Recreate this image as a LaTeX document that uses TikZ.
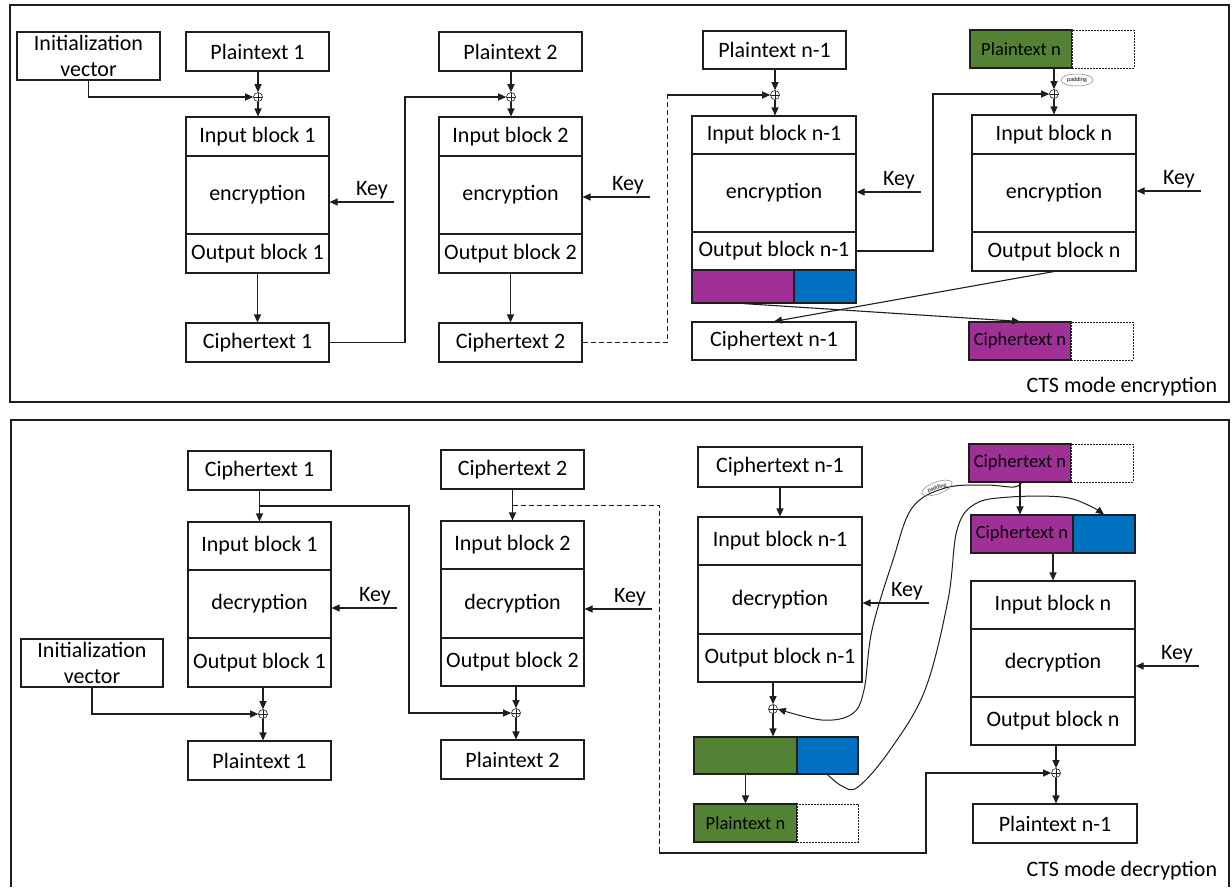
\documentclass[tikz,border=0pt]{standalone}
\usepackage{fontspec}
\setmainfont{Carlito}
\usetikzlibrary{arrows.meta,calc,shapes.geometric}
\definecolor{cpurple}{RGB}{160,48,150}
\definecolor{cgreen}{RGB}{84,130,53}
\definecolor{cblue}{RGB}{0,112,192}
\definecolor{lc}{RGB}{30,30,30}
\newcommand\bk[6][]{\node[blk,minimum width=#4pt,minimum height=#5pt,#1] (#2) at (#3) {#6};}
\newcommand\keyin[3]{%
  \coordinate (k#1) at (#2,#3);
  \draw[arr] (k#1) -- (k#1 -| #1.east);
  \node[keylbl] at ($(k#1)+(-22,-7)$) {Key};}
\begin{document}
\begin{tikzpicture}[x=1pt,y=-1pt,line width=1.1pt,draw=lc,
  blk/.style={draw=lc,fill=white,inner sep=0pt,align=center,font=\fontsize{22}{26}\selectfont},
  sm/.style={font=\fontsize{18.5}{22}\selectfont},
  dpart/.style={draw=lc,dash pattern=on 2pt off 1pt,line width=0.8pt},
  arr/.style={-{Triangle[length=8pt,width=7pt]}},
  xo/.style={circle,draw=lc,line width=0.6pt,minimum size=9pt,inner sep=0pt,
    path picture={\draw[line width=0.6pt] (path picture bounding box.north) -- (path picture bounding box.south)
      (path picture bounding box.west) -- (path picture bounding box.east);}},
  keylbl/.style={anchor=base,font=\fontsize{22}{26}\selectfont},
  pad/.style={ellipse,draw=gray,line width=0.5pt,inner sep=0.5pt,minimum width=32pt,minimum height=12pt,font=\fontsize{6}{7}\selectfont},
  frame/.style={draw=lc,line width=1.1pt},
  curve/.style={line width=1pt}]
\useasboundingbox (0,0) rectangle (1232,887);
% frames
\draw[frame] (10,5) rectangle (1229,402);
\draw[frame] (11,887) -- (11,420) -- (1229,420) -- (1229,887);
\node[anchor=base east,font=\fontsize{22}{26}\selectfont] (lenc) at (1221,392) {CTS mode encryption};
\node[anchor=base east,font=\fontsize{22}{26}\selectfont] (ldec) at (1221,876) {CTS mode decryption};

% ---------------- encryption ----------------
\bk{iv}{88.5,56}{143}{48}{Initialization\\vector}
\bk{p1}{257.5,51.5}{143}{39}{Plaintext 1}
\node[xo] (x1) at (258,97) {};
\bk{in1}{257.5,136.5}{143}{39}{Input block 1}
\bk{enc1}{257.5,195}{143}{78}{encryption}
\bk{out1}{257.5,253.5}{143}{39}{Output block 1}
\bk{c1}{257.5,342.5}{143}{39}{Ciphertext 1}

\bk{p2}{510.5,51.5}{143}{39}{Plaintext 2}
\node[xo] (x2) at (511,97) {};
\bk{in2}{510.5,136.5}{143}{39}{Input block 2}
\bk{enc2}{510.5,195}{143}{78}{encryption}
\bk{out2}{510.5,253.5}{143}{39}{Output block 2}
\bk{c2}{510.5,342.5}{143}{39}{Ciphertext 2}

\bk{p3}{774.5,50}{143}{38}{Plaintext n-1}
\node[xo] (x3) at (775,95) {};
\bk{in3}{774,135}{164}{38}{Input block n-1}
\bk{enc3}{774,193}{164}{78}{encryption}
\bk{out3}{774,251}{164}{38}{Output block n-1}
\bk[fill=cpurple]{o3p}{743,286.5}{102}{33}{}
\bk[fill=cblue]{o3b}{825,286.5}{62}{33}{}
\bk{c3}{774,341}{164}{38}{Ciphertext n-1}

\bk[fill=cgreen,sm]{pn}{1021,49}{102}{38}{Plaintext n}
\bk[dpart]{pnw}{1103,49}{62}{38}{}
\node[xo] (x4) at (1054,94) {};
\node[pad] (pad1) at (1077,80) {padding};
\bk{in4}{1054,134.5}{164}{39}{Input block n}
\bk{enc4}{1054,193}{164}{78}{encryption}
\bk{out4}{1054,251.5}{164}{39}{Output block n}
\bk[fill=cpurple,sm]{cn}{1020,341}{102}{38}{Ciphertext n}
\bk[dpart]{cnw}{1102,341}{62}{38}{}

\draw[arr] (p1.south -| x1) -- (x1.north);
\draw[arr] (x1.south) -- (x1 |- in1.north);
\draw[arr] (iv.south) |- (x1.west);
\draw[arr] (out1) -- (c1);
\keyin{enc1}{394}{202}
\coordinate (t0) at (405,342.5);
\draw[arr] (c1.east) -- (t0) |- (x2.west);

\draw[arr] (p2.south -| x2) -- (x2.north);
\draw[arr] (x2.south) -- (x2 |- in2.north);
\draw[arr] (out2) -- (c2);
\keyin{enc2}{650}{197}
\coordinate (d1) at (667,95);
\draw[line width=0.9pt,dash pattern=on 5pt off 3pt] (c2.east) -| (d1);
\draw[arr] (d1) -- (x3.west);

\draw[arr] (p3.south -| x3) -- (x3.north);
\draw[arr] (x3.south) -- (x3 |- in3.north);
\keyin{enc3}{921}{192}
\coordinate (t1) at (933,251);
\draw[arr] (out3.east) -- (t1) |- (x4.west);
\draw[arr] (pn.south -| x4) -- (x4.north);
\draw[arr] (x4.south) -- (x4 |- in4.north);
\keyin{enc4}{1201}{191}
\draw[arr] (o3p.south) -- (cn.north);
\draw[arr] (out4.south) -- (c3.north);

% ---------------- decryption ----------------
\bk{bc1}{259.5,470.5}{143}{39}{Ciphertext 1}
\bk{bin1}{259.5,546}{143}{48}{Input block 1}
\bk{bdec1}{259.5,604}{143}{68}{decryption}
\bk{bout1}{259.5,662.5}{143}{49}{Output block 1}
\node[xo] (bx1) at (263,714) {};
\bk{bp1}{259.5,760.5}{143}{39}{Plaintext 1}
\bk{biv}{92,663}{142}{48}{Initialization\\vector}

\bk{bc2}{512.5,469.5}{143}{39}{Ciphertext 2}
\bk{bin2}{512.5,545}{143}{48}{Input block 2}
\bk{bdec2}{512.5,603.5}{143}{69}{decryption}
\bk{bout2}{512.5,662}{143}{48}{Output block 2}
\node[xo] (bx2) at (516,713) {};
\bk{bp2}{512.5,759.5}{143}{39}{Plaintext 2}

\bk{bc3}{780,467}{164}{40}{Ciphertext n-1}
\bk{bin3}{780,541}{164}{48}{Input block n-1}
\bk{bdec3}{780,599.5}{164}{69}{decryption}
\bk{bout3}{780,658}{164}{48}{Output block n-1}
\node[xo] (bx3) at (773,709) {};
\bk[fill=cgreen]{bgr}{745.5,755.5}{103}{37}{}
\bk[fill=cblue]{bbl}{827.5,755.5}{61}{37}{}
\bk[fill=cgreen,sm]{bpn}{745.5,823}{103}{38}{Plaintext n}
\bk[dpart]{bpnw}{827.5,823}{61}{38}{}

\bk[fill=cpurple,sm]{bcn}{1020,463}{102}{38}{Ciphertext n}
\bk[dpart]{bcnw}{1102,463}{62}{38}{}
\bk[fill=cpurple,sm]{bcn2}{1022,534}{102}{38}{Ciphertext n}
\bk[fill=cblue]{bcn2b}{1104,534}{62}{38}{}
\bk{bin4}{1053,605}{164}{48}{Input block n}
\bk{bdec4}{1053,663}{164}{68}{decryption}
\bk{bout4}{1053,721}{164}{48}{Output block n}
\node[xo] (bx4) at (1056,773) {};
\bk{bp4}{1055,823.5}{164}{39}{Plaintext n-1}

\draw[arr] (bc1) -- (bin1);
\coordinate (j1) at ($(bc1.south)!0.5!(bin1.north)$);
\coordinate (r1) at (409,713);
\draw[arr] (j1) -| (r1) -- (bx2.west);
\draw[arr] (bout1.south -| bx1) -- (bx1.north);
\draw[arr] (bx1.south) -- (bx1 |- bp1.north);
\draw[arr] (biv.south) |- (bx1.west);
\keyin{bdec1}{397}{608}

\draw[arr] (bc2) -- (bin2);
\coordinate (j2) at ($(bc2.south)!0.5!(bin2.north)$);
\coordinate (r2) at (659,853);
\coordinate (r3) at (926,853);
\draw[line width=0.9pt,dash pattern=on 5pt off 3pt] (j2) -| (r2);
\draw[arr] (r2) -- (r3) |- (bx4.west);
\draw[arr] (bout2.south -| bx2) -- (bx2.north);
\draw[arr] (bx2.south) -- (bx2 |- bp2.north);
\keyin{bdec2}{652}{609}

\draw[arr] (bc3) -- (bin3);
\draw[arr] (bout3.south -| bx3) -- (bx3.north);
\draw[arr] (bx3.south) -- (bx3 |- bgr.north);
\draw[arr] (bgr) -- (bpn);
\keyin{bdec3}{929}{603}

\draw[arr] (bcn.south) -- (bcn.south |- bcn2.north);
\draw[arr] (bin4.north |- bcn2.south) -- (bin4.north);
\draw[arr] (bout4.south -| bx4) -- (bx4.north);
\draw[arr] (bx4.south) -- (bx4 |- bp4.north);
\keyin{bdec4}{1199}{666}

\draw[arr,curve] plot[smooth,tension=0.6] coordinates {(1022,482) (1014,487) (985,485) (945,488) (912,508) (893,560) (872,630) (864,690) (852,714) (822,720) (bx3.east)};
\node[pad,rotate=20] (pad2) at (937,488) {padding};
\draw[arr,curve] plot[smooth,tension=0.6] coordinates {(bbl.south) (842,786) (858,787) (890,750) (925,690) (948,600) (957,530) (975,504) (1010,497) (1062,497) (1088,505) (bcn2b.north)};
\end{tikzpicture}
\end{document}
